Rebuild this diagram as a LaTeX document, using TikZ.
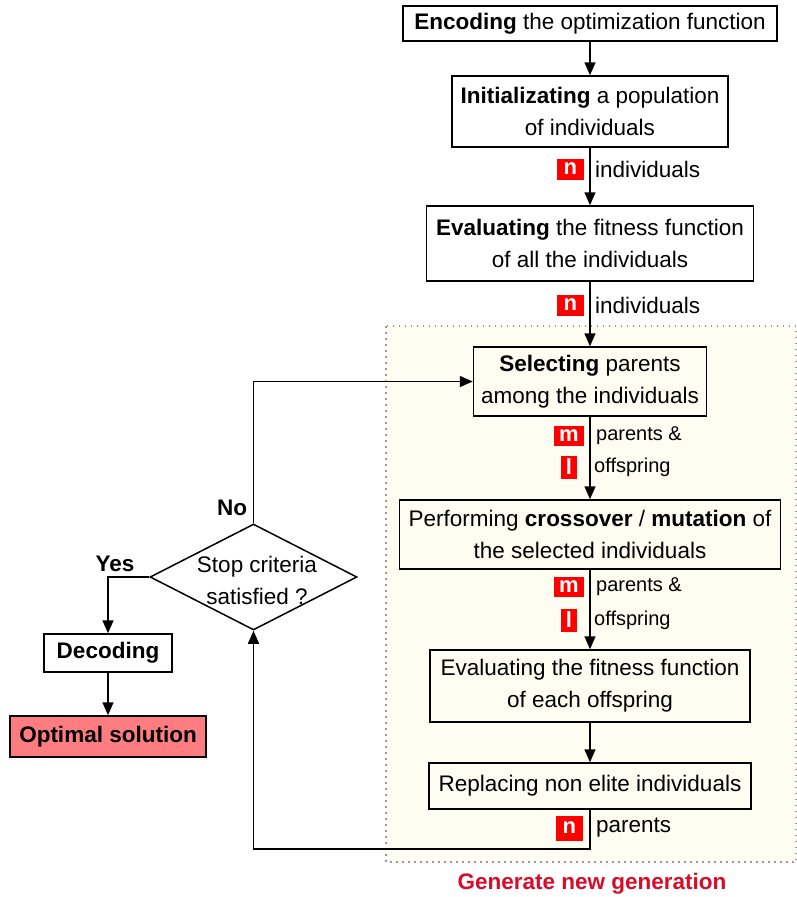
\documentclass[tikz,border=0pt]{standalone}
\usepackage{fontspec}
\setmainfont{Liberation Sans}
\usetikzlibrary{shapes.geometric,arrows.meta}
\definecolor{genyellow}{RGB}{253,253,242}
\definecolor{tagred}{RGB}{255,0,0}
\definecolor{optred}{RGB}{255,124,128}
\definecolor{genred}{RGB}{214,12,40}
\tikzset{
	stage/.style={draw, line width=1.5pt, inner sep=0pt, align=center},
	test/.style={draw, diamond, line width=1.5pt, inner sep=0pt, minimum width=207pt, minimum height=106pt},
	tag/.style={fill=tagred, text=white, font=\fontsize{22}{22}\selectfont\bfseries, inner sep=0pt, anchor=east, minimum height=21pt},
	count/.style={anchor=west, inner sep=0pt},
	smallcount/.style={count, font=\fontsize{20}{24}\selectfont},
	flow/.style={line width=1.5pt, -{Triangle[width=11pt,length=13pt]}}
}
\begin{document}
\begin{tikzpicture}[x=1pt, y=-1pt, font=\fontsize{22.5}{32}\selectfont]
	\useasboundingbox (0,0) rectangle (797,897);
	\draw [gray!80, line width=1.5pt, dash pattern=on 1.5pt off 4.5pt, fill=genyellow] (386,326) rectangle (796,862);
	\node [text=genred] (gentitle) at (592,884) {\textbf{Generate new generation}};
	\node [stage, minimum width=374pt, minimum height=35pt] (encode) at (590,23.5) {\textbf{Encoding} the optimization function};
	\node [stage, minimum width=276pt, minimum height=71pt] (init) at (590,111.5) {\textbf{Initializating} a population\\of individuals};
	\node [stage, minimum width=327pt, minimum height=75pt] (evalall) at (590,243.5) {\textbf{Evaluating} the fitness function\\of all the individuals};
	\node [stage, minimum width=233pt, minimum height=69pt] (select) at (590,381.5) {\textbf{Selecting} parents\\among the individuals};
	\node [stage, minimum width=381pt, minimum height=69pt] (cross) at (590,534.5) {Performing \textbf{crossover} / \textbf{mutation} of\\the selected individuals};
	\node [stage, minimum width=320pt, minimum height=72pt] (evaloff) at (590,686) {Evaluating the fitness function\\of each offspring};
	\node [stage, minimum width=322pt, minimum height=46pt] (replace) at (590,786) {Replacing non elite individuals};
	\node [test] (stop) at (253.5,577) {};
	\node [align=center, inner sep=0pt] (stoptext) at (257,580) {Stop criteria\\satisfied ?};
	\node [stage, minimum width=128pt, minimum height=38pt] (decode) at (108,653) {\textbf{Decoding}};
	\node [stage, fill=optred, minimum width=196pt, minimum height=41pt] (optimum) at (108,736.5) {\textbf{Optimal solution}};
	\node (yes) at (115,564) {\textbf{Yes}};
	\node (no) at (232,508) {\textbf{No}};
	\draw [flow] (encode) -- (init);
	\draw [flow] (init) -- (evalall);
	\draw [flow] (evalall) -- (select);
	\draw [flow] (select) -- (cross);
	\draw [flow] (cross) -- (evaloff);
	\draw [flow] (evaloff) -- (replace);
	\draw [flow] (replace.south) -- ++(0,39) -| (stop.south);
	\draw [flow] (stop.north) |- (select.west);
	\draw [flow] (stop.west) -| (decode.north);
	\draw [flow] (decode) -- (optimum);
	\node [tag, minimum width=27pt] (ninit) at (584,169) {n};
	\node [count] (ninittext) at (595,169) {individuals};
	\node [tag, minimum width=27pt] (neval) at (584,305) {n};
	\node [count] (nevaltext) at (595,305) {individuals};
	\node [tag, minimum width=30pt, minimum height=20pt] (mselect) at (584,436) {m};
	\node [smallcount] (mselecttext) at (596,436) {parents \&};
	\node [tag, minimum width=16pt, minimum height=23pt] (lselect) at (577,467) {l};
	\node [smallcount] (lselecttext) at (594,467) {offspring};
	\node [tag, minimum width=30pt, minimum height=20pt] (mcross) at (584,587) {m};
	\node [smallcount] (mcrosstext) at (596,587) {parents \&};
	\node [tag, minimum width=16pt, minimum height=23pt] (lcross) at (577,620) {l};
	\node [smallcount] (lcrosstext) at (594,620) {offspring};
	\node [tag, minimum width=27pt, minimum height=25pt] (nreplace) at (583,828) {n};
	\node [count] (nreplacetext) at (596,828) {parents};
\end{tikzpicture}
\end{document}
